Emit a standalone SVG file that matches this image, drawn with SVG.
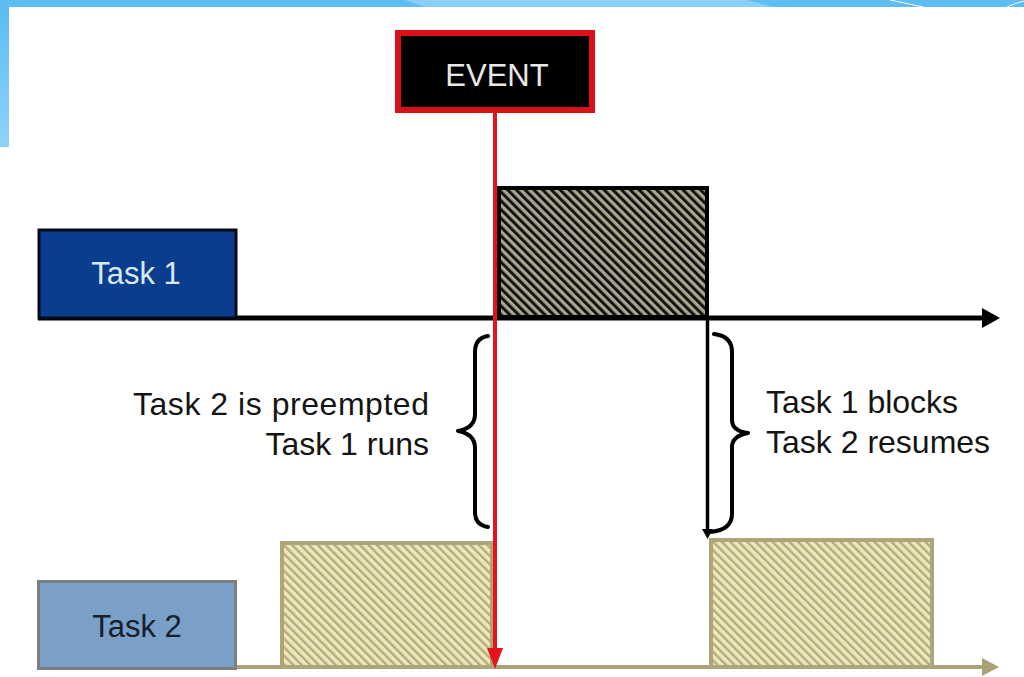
<svg xmlns="http://www.w3.org/2000/svg" width="1024" height="677" viewBox="0 0 1024 677">
  <style>
    .lbl { font-family: "Liberation Sans", Arial, sans-serif; font-size: 32px; fill: #141414; }
    .node-text { font-family: "Liberation Sans", Arial, sans-serif; font-size: 31px; text-anchor: middle; }
    .brace { fill: none; stroke: #000; stroke-width: 4; stroke-linecap: round; stroke-linejoin: round; }
  </style>
  <defs>
    <linearGradient id="sideBar" x1="0" y1="0" x2="0" y2="1">
      <stop offset="0" stop-color="#5cbcf2"/>
      <stop offset="1" stop-color="#8fd3fb"/>
    </linearGradient>
    <!-- dark diagonal hatch for the running Task 1 slice -->
    <pattern id="hatchDark" patternUnits="userSpaceOnUse" width="6.2" height="6.2" patternTransform="rotate(-45)">
      <rect width="6.2" height="6.2" fill="#aba78c"/>
      <rect width="3" height="6.2" fill="#111"/>
    </pattern>
    <!-- light diagonal hatch for the Task 2 slices -->
    <pattern id="hatchLight" patternUnits="userSpaceOnUse" width="6" height="6" patternTransform="rotate(-45)">
      <rect width="6" height="6" fill="#efe9ba"/>
      <rect width="2.4" height="6" fill="#b3ab7e"/>
    </pattern>
  </defs>

  <rect width="1024" height="677" fill="#ffffff"/>

  <!-- slide frame decoration -->
  <g id="frame">
    <rect x="0" y="0" width="1024" height="7" fill="#5ebef3"/>
    <polygon points="405,0 747,0 773,7 425,7" fill="#8acff7"/>
    <path d="M890,0 Q905,3 923,7" fill="none" stroke="#ffffff" stroke-width="1"/>
    <path d="M1007,7 Q1015,3 1024,1" fill="none" stroke="#ffffff" stroke-width="1"/>
    <rect x="0" y="7" width="9" height="140" fill="url(#sideBar)"/>
  </g>

  <!-- timelines and event marker -->
  <g id="connectors">
    <!-- Task 1 time axis -->
    <line x1="38" y1="318" x2="984" y2="318" stroke="#000" stroke-width="5"/>
    <polygon points="982,308 1000,318 982,328" fill="#000"/>
    <!-- Task 2 time axis -->
    <line x1="236" y1="667" x2="984" y2="667" stroke="#aaa274" stroke-width="4"/>
    <polygon points="982,658 999,667 982,676" fill="#aaa274"/>
    <!-- hand-back line from end of Task 1 slice -->
    <line x1="707.5" y1="318" x2="707.5" y2="531" stroke="#000" stroke-width="3.5"/>
    <polygon points="702,529 713,529 707.5,539" fill="#000"/>
  </g>

  <!-- Task 1 slice (preempting) -->
  <g id="task1-run">
    <rect x="499" y="188" width="208" height="129" fill="url(#hatchDark)" stroke="#000" stroke-width="4"/>
  </g>

  <!-- Task 2 slices -->
  <g id="task2-run-a">
    <rect x="282" y="543" width="210" height="124" fill="url(#hatchLight)" stroke="#aea67a" stroke-width="4"/>
  </g>
  <g id="task2-run-b">
    <rect x="711" y="540" width="221" height="127" fill="url(#hatchLight)" stroke="#aea67a" stroke-width="4"/>
  </g>

  <!-- Task 1 label block -->
  <g id="task1">
    <rect x="39" y="230" width="197" height="88" fill="#0b3d8e" stroke="#050a18" stroke-width="3"/>
    <text class="node-text" x="136" y="284" fill="#d9e9f6">Task 1</text>
  </g>

  <!-- Task 2 label block -->
  <g id="task2">
    <rect x="38.5" y="581.5" width="197" height="87" fill="#7aa0c8" stroke="#7b7f83" stroke-width="3"/>
    <text class="node-text" x="137" y="637" fill="#15202e">Task 2</text>
  </g>

  <!-- braces with annotations -->
  <g id="note-preempt">
    <path class="brace" d="M488,336 Q475,338 475,352 L475,414 Q475,428 458,431 Q475,434 475,448 L475,512 Q475,525 488,527"/>
    <text class="lbl" x="429" y="415" text-anchor="end" textLength="296" lengthAdjust="spacing">Task 2 is preempted</text>
    <text class="lbl" x="429" y="455" text-anchor="end">Task 1 runs</text>
  </g>
  <g id="note-block">
    <path class="brace" d="M714,334 Q732,336 732,352 L732,420 Q732,431 748,433 Q732,436 732,447 L732,514 Q732,530 710,532"/>
    <text class="lbl" x="766" y="413">Task 1 blocks</text>
    <text class="lbl" x="766" y="453">Task 2 resumes</text>
  </g>

  <!-- event marker -->
  <g id="event">
    <rect x="398" y="33" width="194" height="77" fill="#000" stroke="#d81218" stroke-width="6"/>
    <text class="node-text" x="497" y="86" fill="#e8e8e8" font-size="32">EVENT</text>
  </g>
  <g id="event-line">
    <line x1="495" y1="113" x2="495" y2="650" stroke="#e3141b" stroke-width="4"/>
    <polygon points="487,648 503,648 495,669" fill="#e3141b"/>
  </g>
</svg>
